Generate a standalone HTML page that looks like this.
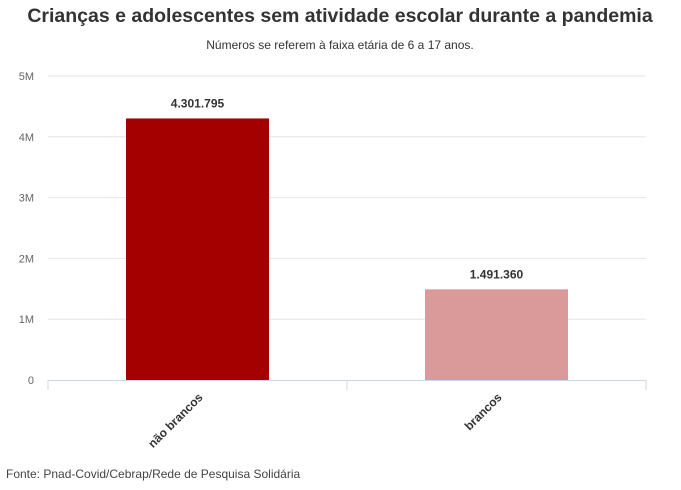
<!DOCTYPE html>
<html><head><meta charset="utf-8"><style>
body{margin:0;background:#fff;font-family:"Liberation Sans",sans-serif;}
svg text{font-family:"Liberation Sans",sans-serif;}
</style></head><body>
<svg id="c" width="681" height="485">
<text x="340" y="22" text-anchor="middle" font-size="19.5" font-weight="bold" fill="#333">Crianças e adolescentes sem atividade escolar durante a pandemia</text>
<text x="340" y="49" text-anchor="middle" font-size="12" fill="#333">Números se referem à faixa etária de 6 a 17 anos.</text>
<g id="grid"></g><g id="bars"></g>
<text x="6" y="478" font-size="12" fill="#444">Fonte: Pnad-Covid/Cebrap/Rede de Pesquisa Solidária</text>
</svg>
<script>
const categories=["não brancos","brancos"];
const values=[4301795,1491360];
const valueLabels=["4.301.795","1.491.360"];
const colors=["#a50000","#db9a9a"];
const ticks=[0,1000000,2000000,3000000,4000000,5000000];
const tickLabels=["0","1M","2M","3M","4M","5M"];
const NS="http://www.w3.org/2000/svg";
const x0=48,x1=646,yb=380,yt=76,maxV=5000000;
const y=v=>yb-(v/maxV)*(yb-yt);
const bw=(x1-x0)/categories.length;
const xc=i=>x0+bw*(i+0.5);
function mk(tag,attrs,parent,txt){const e=document.createElementNS(NS,tag);for(const k in attrs)e.setAttribute(k,attrs[k]);if(txt!==undefined)e.textContent=txt;parent.appendChild(e);return e;}
const g=document.getElementById('grid'),b=document.getElementById('bars');
ticks.forEach((t,i)=>{
 if(t>0){const l=mk('line',{x1:x0,x2:x1,y1:y(t),y2:y(t),stroke:'#e6e6e6'},g);
 
 }
 const tx=mk('text',{x:34,y:y(t)+4,'text-anchor':'end','font-size':11,fill:'#666'},g,tickLabels[i]);
 
 
});
const ax=mk('line',{x1:x0,x2:x1,y1:yb+0.5,y2:yb+0.5,stroke:'#ccd6eb'},g);


for(let i=0;i<=categories.length;i++){const tk=mk('line',{x1:x0+bw*i,x2:x0+bw*i,y1:yb,y2:yb+10,stroke:'#ccd6eb'},g);
 
 }
categories.forEach((c,i)=>{
 const w=143,cx=xc(i);
 const r=mk('rect',{x:cx-w/2,y:y(values[i]),width:w,height:yb-y(values[i]),fill:colors[i]},b);
 
 
 const vl=mk('text',{x:cx,y:y(values[i])-11,'text-anchor':'middle','font-size':12,'font-weight':'bold',fill:'#333'},b,valueLabels[i]);
 
 
 const cl=mk('text',{x:cx+6,y:yb+18,'text-anchor':'end','font-size':12,'font-weight':'bold',fill:'#333',transform:`rotate(-45 ${cx+6} ${yb+18})`},b,c);
 
 
});
</script>
</body></html>
